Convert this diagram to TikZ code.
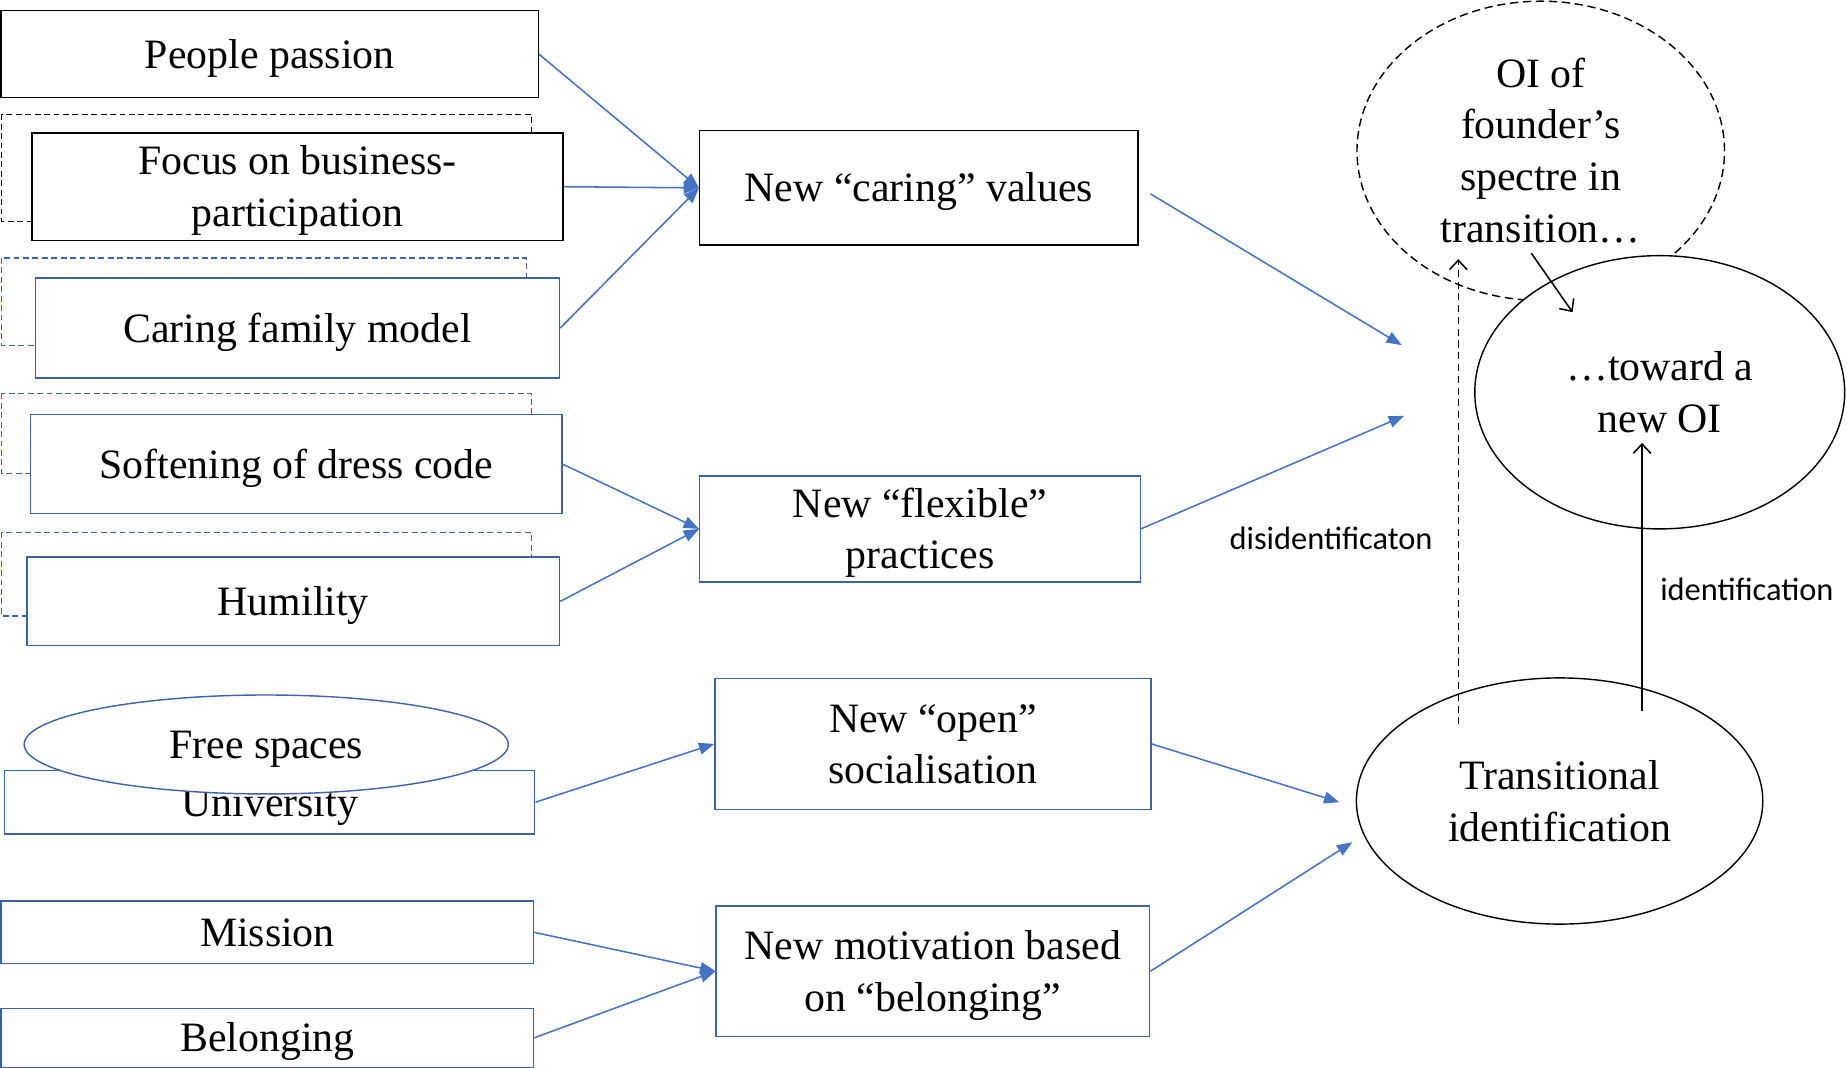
\documentclass[tikz,border=0pt]{standalone}
\usepackage{fontspec}
\setmainfont{Liberation Serif}
\newfontfamily\labfont{Carlito}
\usetikzlibrary{shapes.geometric,arrows.meta,calc}
\definecolor{arrblue}{RGB}{68,114,196}
\definecolor{boxblue}{RGB}{61,98,170}
\newcommand\wordstrut{\rule[-7.7pt]{0pt}{39.3pt}}
\begin{document}
\begin{tikzpicture}[x=1pt,y=-1pt,
  txt/.style={font=\fontsize{35.5}{44}\selectfont, align=center, inner sep=0pt,
    execute at begin node=\wordstrut, execute at end node=\wordstrut},
  bbox/.style={txt, rectangle, draw=black, line width=1.2pt, fill=white},
  blbox/.style={txt, rectangle, draw=boxblue, line width=1.2pt, fill=white},
  dashk/.style={draw=black, line width=1pt, dash pattern=on 5pt off 3pt},
  dashb/.style={draw=boxblue, line width=1pt, dash pattern=on 5pt off 3pt},
  barrow/.style={draw=arrblue, line width=1.3pt, -{Triangle[length=13pt,width=10pt]}},
  karrow/.style={draw=black, line width=1.3pt, -{Straight Barb[length=8pt,width=15pt]}},
  ell/.style={txt, ellipse, draw=black, line width=1.2pt},
  lab/.style={font=\labfont\fontsize{27.5}{33}\selectfont, inner sep=0pt}]
\useasboundingbox (0,0) rectangle (1568,906);
\fill[white] (0,0) rectangle (1568,906);

% left column
\node[bbox, minimum width=456pt, minimum height=74pt] (pp) at (229,46) {People passion};
\draw[dashk] (1.5,97) rectangle (451,188);
\node[bbox, minimum width=451pt, minimum height=91pt] (fo) at (252.5,158.5) {\wordstrut Focus on business-\\participation};
\draw[dashb] (1.5,219) rectangle (447,293);
\node[blbox, minimum width=445pt, minimum height=85pt] (cf) at (252.5,278.5) {Caring family model};
\draw[dashb] (1.5,334) rectangle (451,402);
\node[blbox, minimum width=451pt, minimum height=84pt] (sd) at (251.5,394) {Softening of dress code};
\draw[dashb] (1.5,452) rectangle (451,523);
\node[blbox, minimum width=452pt, minimum height=75pt] (hu) at (249,510.5) {Humility};
\node[blbox, minimum width=450pt, minimum height=54pt] (un) at (229,681) {University};
\node[txt, ellipse, draw=boxblue, line width=1.2pt, fill=white, minimum width=411pt, minimum height=84pt] (fs) at (226,632) {Free spaces};
\node[blbox, minimum width=452pt, minimum height=53pt] (mi) at (227,791.5) {Mission};
\node[blbox, minimum width=452pt, minimum height=50pt] (be) at (227,881) {Belonging};

% middle column
\node[bbox, minimum width=372pt, minimum height=97pt] (cv) at (780,159.5) {New “caring” values};
\node[blbox, minimum width=374pt, minimum height=90pt] (fp) at (781,449) {\wordstrut New “flexible”\\practices};
\node[blbox, minimum width=370pt, minimum height=111pt] (os) at (792,631.5) {\wordstrut New “open”\\socialisation};
\node[blbox, minimum width=368pt, minimum height=111pt] (mb) at (792,824.5) {\wordstrut New motivation based\\on “belonging”};

% right column
\node[ell, dash pattern=on 7pt off 4pt, minimum width=312pt, minimum height=254pt] (oi) at (1308,128) {\wordstrut OI of\\founder’s\\spectre in\\transition…};
\node[ell, fill=white, minimum width=314pt, minimum height=232pt] (ta) at (1409,333) {\wordstrut …toward a\\new OI};
\node[ell, minimum width=345pt, minimum height=209pt] (ti) at (1324,680) {\wordstrut Transitional\\identification};

\node[lab] (dis) at (1130,457) {disidentificaton};
\node[lab] (idl) at (1483,500) {identification};

% free ends
\coordinate (e1) at (1190,293);
\coordinate (e2) at (1192,353);
\coordinate (e3) at (1137,681);
\coordinate (e4) at (1148,715);
\coordinate (d0) at (1238,615);
\coordinate (d1) at (1238,220);
\coordinate (s0) at (1394,604);
\coordinate (s1) at (1394,376);
\coordinate (t0) at (1300,215);
\coordinate (t1) at (1335,265);

% connectors
\draw[barrow] (pp.east) -- (cv.west);
\draw[barrow] (fo.east) -- (cv.west);
\draw[barrow] (cf.east) -- (cv.west);
\draw[barrow] (sd.east) -- (fp.west);
\draw[barrow] (hu.east) -- (fp.west);
\draw[barrow] (un.east) -- (os.west);
\draw[barrow] (mi.east) -- (mb.west);
\draw[barrow] (be.east) -- (mb.west);
\draw[barrow] ($(cv.east)+(10,5)$) -- (e1);
\draw[barrow] (fp.east) -- (e2);
\draw[barrow] (os.east) -- (e3);
\draw[barrow] (mb.east) -- (e4);
\draw[karrow, dash pattern=on 6pt off 4pt] (d0) -- (d1);
\draw[karrow] (s0) -- (s1);
\draw[karrow] (t0) -- (t1);
\end{tikzpicture}
\end{document}
